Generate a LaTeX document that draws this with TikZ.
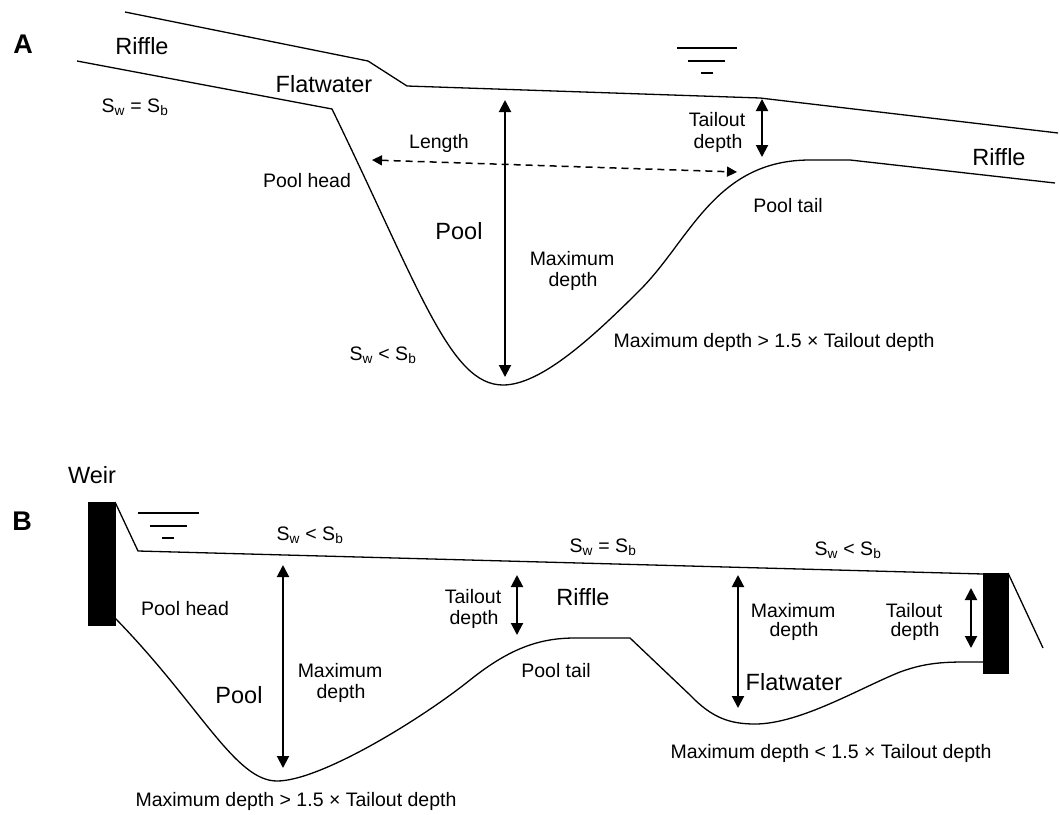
\documentclass[tikz,border=0pt]{standalone}
\usepackage{fontspec}
\setmainfont{Liberation Sans}
\usetikzlibrary{arrows.meta}
\begin{document}
\begin{tikzpicture}[x=1pt,y=-1pt,
  sm/.style={font=\fontsize{19.5}{24}\selectfont, inner sep=0pt, anchor=base},
  big/.style={font=\fontsize{23.5}{28}\selectfont, inner sep=0pt, anchor=base},
  lab/.style={font=\fontsize{27}{30}\selectfont\bfseries, inner sep=0pt, anchor=base},
  ln/.style={line width=1.3pt, line join=round},
  sym/.style={line width=1.6pt},
  dbl/.style={line width=2pt, {Triangle[length=12pt,width=12pt]}-{Triangle[length=12pt,width=12pt]}},
  dsh/.style={line width=1.5pt, dash pattern=on 7pt off 5pt, {Triangle[length=10pt,width=10pt]}-{Triangle[length=10pt,width=10pt]}},
  weir/.style={fill=black, draw=black}
]
\useasboundingbox (0,0) rectangle (1060,814);

% ---------------- Panel A ----------------
\node[lab] (labA) at (23,53) {A};
% water surface
\draw[ln] (125,12) -- (368,61) -- (407,86) -- (760,98) -- (1058,133);
% bed
\draw[ln] (77,61) -- (332,109)
  .. controls (420,290) and (450,385) .. (503,385)
  .. controls (540,385) and (590,340) .. (640,290)
  .. controls (690,240) and (715,160) .. (810,160)
  -- (850,160) -- (1055,183);
% water symbol
\draw[sym] (677,48) -- (737,48);
\draw[sym] (688,61) -- (725,61);
\draw[sym] (701,73) -- (713,73);
% arrows
\coordinate (maxAt) at (505,100); \coordinate (maxAb) at (505,377);
\coordinate (tdAt) at (762,99);  \coordinate (tdAb) at (762,157);
\coordinate (lenAl) at (372,160); \coordinate (lenAr) at (737,172);
\draw[dbl] (maxAt) -- (maxAb);
\draw[dbl] (tdAt) -- (tdAb);
\draw[dsh] (lenAl) -- (lenAr);
% labels
\node[big] (riffA1) at (142,54) {Riffle};
\node[big] (flatA) at (324,92) {Flatwater};
\node[sm] (swA1) at (135,112) {S\textsubscript{w} = S\textsubscript{b}};
\node[sm] (phA) at (307,187) {Pool head};
\node[sm] (lenA) at (439,148) {Length};
\node[sm] (tdA1) at (717,126) {Tailout};
\node[sm] (tdA2) at (718,148) {depth};
\node[big] (riffA2) at (999,165) {Riffle};
\node[sm] (ptA) at (788,212) {Pool tail};
\node[big] (poolA) at (459,239) {Pool};
\node[sm] (mdA1) at (572,265) {Maximum};
\node[sm] (mdA2) at (573,286) {depth};
\node[sm] (swA2) at (383,360) {S\textsubscript{w} < S\textsubscript{b}};
\node[sm] (crA) at (774,347) {Maximum depth > 1.5 × Tailout depth};

% ---------------- Panel B ----------------
\node[lab] (labB) at (22,530) {B};
\node[big] (weirL) at (92,483) {Weir};
% weirs
\draw[weir] (88,502) rectangle (115,625);
\draw[weir] (983,573) rectangle (1008,673);
% water surface
\draw[ln] (115,502) -- (138,551) -- (983,574);
\draw[ln] (1008,573) -- (1043,648);
% bed
\draw[ln] (115,618)
  .. controls (200,705) and (235,781) .. (277,781)
  .. controls (320,781) and (420,720) .. (470,680)
  .. controls (510,648) and (540,638) .. (575,638)
  -- (630,638) -- (690,695)
  .. controls (712,718) and (730,724) .. (755,724)
  .. controls (800,724) and (860,688) .. (900,672)
  .. controls (930,661) and (950,662) .. (983,662);
% water symbol
\draw[sym] (138,513) -- (199,513);
\draw[sym] (150,526) -- (187,526);
\draw[sym] (162,538) -- (174,538);
% arrows
\coordinate (mdBt) at (283,565); \coordinate (mdBb) at (283,768);
\coordinate (tdBt) at (517,575); \coordinate (tdBb) at (517,635);
\coordinate (mfBt) at (738,575); \coordinate (mfBb) at (738,708);
\coordinate (trBt) at (971,588); \coordinate (trBb) at (971,648);
\draw[dbl] (mdBt) -- (mdBb);
\draw[dbl] (tdBt) -- (tdBb);
\draw[dbl] (mfBt) -- (mfBb);
\draw[dbl] (trBt) -- (trBb);
% labels
\node[sm] (phB) at (185,615) {Pool head};
\node[sm] (swB1) at (310,540) {S\textsubscript{w} < S\textsubscript{b}};
\node[sm] (swB2) at (603,552) {S\textsubscript{w} = S\textsubscript{b}};
\node[sm] (swB3) at (848,555) {S\textsubscript{w} < S\textsubscript{b}};
\node[sm] (tdB1) at (473,603) {Tailout};
\node[sm] (tdB2) at (474,624) {depth};
\node[big] (riffB) at (583,605) {Riffle};
\node[sm] (ptB) at (556,677) {Pool tail};
\node[big] (poolB) at (239,703) {Pool};
\node[sm] (mdB1) at (340,677) {Maximum};
\node[sm] (mdB2) at (341,698) {depth};
\node[sm] (crB1) at (296,806) {Maximum depth > 1.5 × Tailout depth};
\node[sm] (mfB1) at (793,617) {Maximum};
\node[sm] (mfB2) at (794,636) {depth};
\node[sm] (trB1) at (914,617) {Tailout};
\node[sm] (trB2) at (915,636) {depth};
\node[big] (flatB) at (794,690) {Flatwater};
\node[sm] (crB2) at (831,758) {Maximum depth < 1.5 × Tailout depth};
\end{tikzpicture}
\end{document}
